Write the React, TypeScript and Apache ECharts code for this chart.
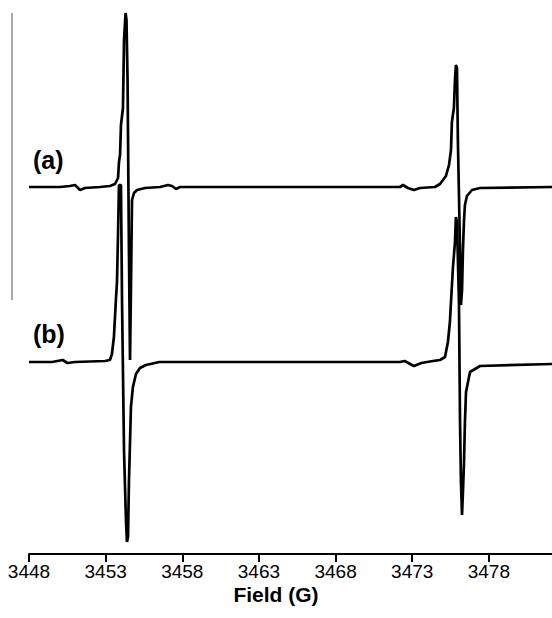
import React, { useEffect, useRef } from 'react';
import * as echarts from 'echarts';

// Magnetic field ticks (G)
const FIELD_TICKS = [3448, 3453, 3458, 3463, 3468, 3473, 3478];
const FIELD_MIN = 3448;
const FIELD_MAX = 3482.12;

// Trace (a): field (G) and derivative signal (a.u., relative to its own baseline)
const FIELD_A = [
  3448.0, 3450.02, 3450.67, 3451.0, 3451.33, 3451.65, 3452.63, 3453.28, 3453.61, 3453.81,
  3453.87, 3453.94, 3454.0, 3454.13, 3454.2, 3454.3, 3454.36, 3454.43, 3454.52, 3454.59,
  3454.65, 3454.72, 3454.85, 3455.05, 3455.57, 3456.55, 3457.07, 3457.33, 3457.59, 3457.85,
  3472.2, 3472.4, 3472.72, 3473.11, 3473.51, 3474.48, 3474.81, 3475.2, 3475.4, 3475.53,
  3475.59, 3475.72, 3475.79, 3475.85, 3475.92, 3475.98, 3476.12, 3476.18, 3476.25, 3476.31,
  3476.38, 3476.44, 3476.57, 3476.9, 3477.42, 3482.12,
];
const SIGNAL_A = [
  0, 0, 1, 2, -3, -1, 0, 1, 3, 9,
  25, 32, 62, 79, 147, 174, 167, 107, -63, -173,
  -103, -13, -6, -3, -1, 0, 2, 1, -2, 0,
  0, 2, -1, -3, -1, 0, 3, 11, 22, 37,
  65, 79, 107, 122, 119, 47, -63, -118, -103, -63,
  -33, -18, -9, -3, -1, 0,
];

// Trace (b)
const FIELD_B = [
  3448.0, 3449.5, 3450.2, 3450.5, 3451.0, 3452.96, 3453.28, 3453.41, 3453.54, 3453.68,
  3453.74, 3453.81, 3453.87, 3454.0, 3454.07, 3454.2, 3454.33, 3454.39, 3454.46, 3454.52,
  3454.59, 3454.65, 3454.78, 3454.98, 3455.24, 3455.63, 3456.5, 3472.2, 3472.5, 3473.11,
  3473.6, 3474.35, 3474.81, 3475.14, 3475.33, 3475.46, 3475.53, 3475.66, 3475.79, 3475.85,
  3475.92, 3476.05, 3476.12, 3476.18, 3476.25, 3476.31, 3476.38, 3476.44, 3476.51, 3476.77,
  3477.42, 3482.12,
];
const SIGNAL_B = [
  0, 0, 2, -1, 0, 1, 2, 8, 25, 65,
  80, 130, 177, 177, 60, -90, -160, -180, -175, -120,
  -80, -45, -25, -12, -6, -3, 0, 0, 1, -4,
  -1, 1, 2, 5, 20, 40, 60, 95, 120, 145,
  140, 60, -60, -120, -153, -130, -100, -60, -30, -10,
  -4, -2,
];

const TRACE_LABELS = ['(a)', '(b)'];
const AXIS_TITLE = 'Field (G)';
const OFFSET_A = 367;
const OFFSET_B = 192;

export default function App() {
  const ref = useRef<HTMLDivElement>(null);
  useEffect(() => {
    const chart = echarts.init(ref.current!, null, { renderer: 'svg' });
    const font = '"Liberation Sans", Arial, sans-serif';
    chart.setOption({
      animation: false,
      backgroundColor: '#ffffff',
      grid: { left: 29, right: 0, top: 0, bottom: 64 },
      xAxis: {
        type: 'value',
        min: FIELD_MIN,
        max: FIELD_MAX,
        axisLine: { show: true, lineStyle: { color: '#000', width: 2 } },
        axisTick: {
          show: true,
          length: 8,
          customValues: FIELD_TICKS,
          lineStyle: { color: '#000', width: 2 },
        },
        axisLabel: {
          fontSize: 19,
          color: '#000',
          fontFamily: font,
          margin: 8,
          customValues: FIELD_TICKS,
          formatter: (v: number) => (FIELD_TICKS.includes(v) ? String(v) : ''),
        },
        splitLine: { show: false },
      },
      yAxis: { type: 'value', min: 0, max: 554, show: false },
      series: [
        {
          type: 'line',
          showSymbol: false,
          clip: false,
          lineStyle: { color: '#000', width: 2.7 },
          data: FIELD_A.map((f, i) => [f, SIGNAL_A[i] + OFFSET_A]),
        },
        {
          type: 'line',
          showSymbol: false,
          clip: false,
          lineStyle: { color: '#000', width: 2.7 },
          data: FIELD_B.map((f, i) => [f, SIGNAL_B[i] + OFFSET_B]),
        },
      ],
      graphic: [
        {
          type: 'line',
          shape: { x1: 12, y1: 13, x2: 12, y2: 300 },
          style: { stroke: '#8a8a8a', lineWidth: 1.5 },
        },
        {
          type: 'text',
          x: 33,
          y: 160,
          style: {
            text: TRACE_LABELS[0],
            font: `bold 25px ${font}`,
            fill: '#000',
            align: 'left',
            verticalAlign: 'middle',
          },
        },
        {
          type: 'text',
          x: 33,
          y: 334,
          style: {
            text: TRACE_LABELS[1],
            font: `bold 25px ${font}`,
            fill: '#000',
            align: 'left',
            verticalAlign: 'middle',
          },
        },
        {
          type: 'text',
          x: 276,
          y: 594,
          style: {
            text: AXIS_TITLE,
            font: `bold 21px ${font}`,
            fill: '#000',
            align: 'center',
            verticalAlign: 'middle',
          },
        },
      ],
    });
    return () => chart.dispose();
  }, []);
  return (
    <div
      ref={ref}
      style={{ position: 'fixed', left: 0, top: 0, width: 552, height: 618 }}
    />
  );
}
